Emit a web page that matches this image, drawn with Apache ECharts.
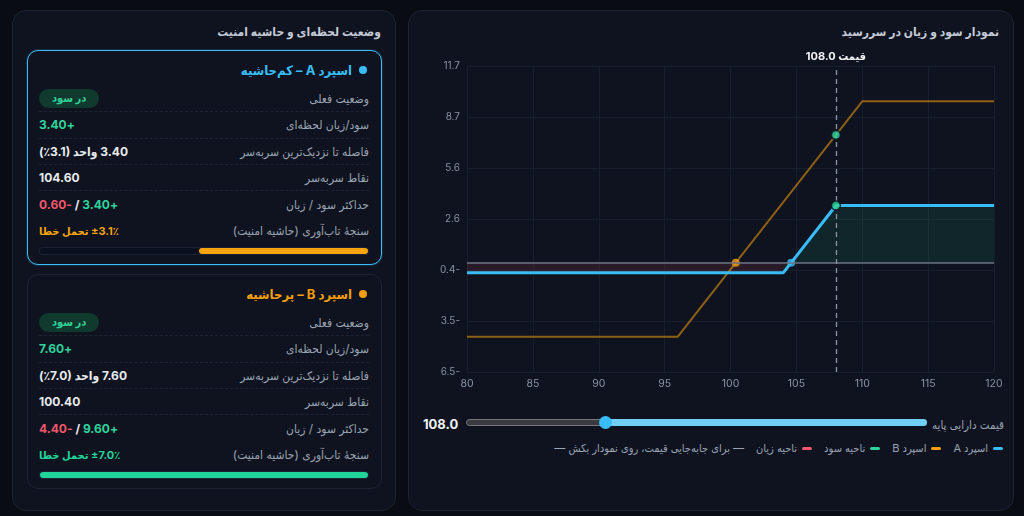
<!DOCTYPE html>
<html lang="fa" dir="rtl">
<head>
<meta charset="UTF-8">
<title>نمودار سود و زیان</title>
<script src="https://cdn.jsdelivr.net/npm/echarts@6/dist/echarts.min.js"></script>
<style>
  body { margin:0; width:1024px; height:516px; overflow:hidden; background:#090c13;
         font-family: Inter, "DejaVu Sans Condensed", "DejaVu Sans", sans-serif; font-stretch: semi-condensed; color:#e5e7eb; }
  .panel { position:absolute; top:10px; height:501px; background:#0e131f; border:1px solid #1c2333;
           border-radius:14px; box-sizing:border-box; }
  #left { left:12px; width:384px; }
  #right { left:408px; width:606px; }
  .ptitle { position:absolute; top:13px; right:14px; font-size:12px; font-weight:bold; color:#c3cad6; }
  .card { position:absolute; left:14px; width:355px; height:215px; box-sizing:border-box;
          border:1px solid #1c2333; border-radius:11px; background:#0e131f; }
  .card.active { border:1.5px solid #38bdf8; box-shadow:0 0 0 1px rgba(56,189,248,0.15); }
  .ctitle { position:absolute; top:11px; right:14px; font-size:13px; font-weight:bold; display:flex; align-items:center; gap:7px; }
  .ctitle .dot { width:8px; height:8px; border-radius:50%; }
  .rows { position:absolute; top:35px; left:11px; right:12px; }
  .row { height:26.3px; display:flex; justify-content:space-between; align-items:center; font-size:12px;
         box-sizing:border-box; }
  .row.sep { border-bottom:1px dashed #1d2434; }
  .row .lbl { color:#9aa3b2; }
  .row .val { font-weight:bold; color:#e8ebf0; }
  .row .pos, .pos { color:#2fd39b; }
  .row .neg, .neg { color:#f0576a; }
  .badge { background:#0f3a2d; color:#2fd39b; font-size:11px; font-weight:bold; padding:2px 13px 3px; border-radius:10px; }
  .gauge { position:absolute; left:11px; right:12px; top:196px; height:6px; border-radius:3px; background:#0b1020;
           border:1px solid #1a2132; }
  .gauge .fill { position:absolute; right:0; top:0; bottom:0; border-radius:3px; }
  #chart { position:absolute; left:0; top:30px; width:604px; height:360px; }
  .slabel { position:absolute; top:407px; right:9px; font-size:11.5px; color:#9aa3b2; }
  .sval { position:absolute; top:405px; left:14px; font-size:13px; font-weight:bold; color:#f1f3f6; }
  .track { position:absolute; top:408px; left:57px; width:461px; height:7px; border-radius:4px; background:#3a3b40;
           box-sizing:border-box; border:1px solid #77787d; }
  .track .fill { position:absolute; top:-1px; bottom:-1px; right:-1px; border-radius:4px; background:#6fcff5; }
  .thumb { position:absolute; top:405px; width:13px; height:13px; border-radius:50%; background:#38bdf8; margin-left:-5px; }
  .legend { position:absolute; top:430px; right:10px; display:flex; align-items:center; gap:12px; font-size:11px; color:#9aa3b2; }
  .legend .it { display:flex; align-items:center; gap:5px; }
  .legend .ic { width:10px; height:3px; border-radius:2px; }
</style>
</head>
<body>
<div class="panel" id="left">
  <div class="ptitle">وضعیت لحظه‌ای و حاشیه امنیت</div>
  <div id="cards"></div>
</div>
<div class="panel" id="right">
  <div class="ptitle">نمودار سود و زیان در سررسید</div>
  <div id="chart"></div>
  <div class="slabel">قیمت دارایی پایه</div>
  <div class="track"><div class="fill" id="sfill"></div></div>
  <div class="thumb" id="thumb"></div>
  <div class="sval" id="sval"></div>
  <div class="legend">
    <div class="it"><span class="ic" style="background:#38bdf8"></span>اسپرد A</div>
    <div class="it"><span class="ic" style="background:#f59e0b"></span>اسپرد B</div>
    <div class="it"><span class="ic" style="background:#2fd39b"></span>ناحیه سود</div>
    <div class="it"><span class="ic" style="background:#f0576a"></span>ناحیه زیان</div>
    <div class="it">— برای جابه‌جایی قیمت، روی نمودار بکش —</div>
  </div>
</div>

<script type="text/javascript">
    // داده‌ها
    var priceMin = 80, priceMax = 120, priceStep = 5;
    var pnlMin = -6.5, pnlMax = 11.7, pnlSplits = 6;
    var currentPrice = 108.0;

    var spreadA = [[80, -0.6], [104, -0.6], [108, 3.4], [120, 3.4]];
    var spreadB = [[80, -4.4], [96, -4.4], [110, 9.6], [120, 9.6]];
    var lossZoneA = [[80, -0.6], [104, -0.6], [104.6, 0]];
    var profitZoneA = [[104.6, 0], [108, 3.4], [120, 3.4]];
    var breakevenA = [[104.6, 0]];
    var breakevenB = [[100.4, 0]];
    var nowPoints = [[108, 3.4], [108, 7.6]];

    // کارت‌ها
    var cardNames = ['اسپرد A – کم‌حاشیه', 'اسپرد B – پرحاشیه'];
    var cardColors = ['#38bdf8', '#f59e0b'];
    var cardPnl = ['+3.40', '+7.60'];
    var cardDist = ['3.40', '7.60'];
    var cardPct = ['3.1', '7.0'];
    var cardBreakeven = ['104.60', '100.40'];
    var cardMaxProfit = ['+3.40', '+9.60'];
    var cardMaxLoss = ['-0.60', '-4.40'];
    var gaugeColors = ['#f5a30f', '#22d39a'];
    var gaugeFull = 6; // درصد

    var tops = [39, 263];
    var html = '';
    for (var i = 0; i < 2; i++) {
        var w = Math.min(1, parseFloat(cardPct[i]) / gaugeFull) * 100;
        html += '<div class="card' + (i === 0 ? ' active' : '') + '" style="top:' + tops[i] + 'px">' +
            '<div class="ctitle" style="color:' + cardColors[i] + '"><span class="dot" style="background:' + cardColors[i] + '"></span>' + cardNames[i] + '</div>' +
            '<div class="rows">' +
            '<div class="row sep"><span class="lbl">وضعیت فعلی</span><span class="badge">در سود</span></div>' +
            '<div class="row sep"><span class="lbl">سود/زیان لحظه‌ای</span><span class="val pos">' + cardPnl[i] + '</span></div>' +
            '<div class="row sep"><span class="lbl">فاصله تا نزدیک‌ترین سربه‌سر</span><span class="val">' + cardDist[i] + ' واحد <bdi dir="ltr">(٪' + cardPct[i] + ')</bdi></span></div>' +
            '<div class="row sep"><span class="lbl">نقاط سربه‌سر</span><span class="val">' + cardBreakeven[i] + '</span></div>' +
            '<div class="row"><span class="lbl">حداکثر سود / زیان</span><span class="val"><span class="pos">' + cardMaxProfit[i] + '</span> / <span class="neg">' + cardMaxLoss[i] + '</span></span></div>' +
            '<div class="row"><span class="lbl">سنجهٔ تاب‌آوری (حاشیه امنیت)</span><span class="val" style="font-size:11px;color:' + gaugeColors[i] + '"><bdi dir="ltr">±' + cardPct[i] + '٪</bdi> تحمل خطا</span></div>' +
            '</div>' +
            '<div class="gauge"><div class="fill" style="width:' + w + '%;background:' + gaugeColors[i] + '"></div></div>' +
            '</div>';
    }
    document.getElementById('cards').innerHTML = html;

    // اسلایدر (راست = کمینه)
    var frac = (priceMax - currentPrice) / (priceMax - priceMin);
    document.getElementById('sfill').style.left = (frac * 461) + 'px';
    document.getElementById('thumb').style.left = (57 + frac * 461) + 'px';
    document.getElementById('sval').textContent = currentPrice.toFixed(1);

    var myChart = echarts.init(document.getElementById('chart'));
    var font = 'Inter, "DejaVu Sans Condensed", "DejaVu Sans", sans-serif';
    var option = {
        animation: false,
        textStyle: { fontFamily: font },
        grid: { left: 58, right: 19, top: 25, bottom: 29 },
        xAxis: {
            type: 'value', min: priceMin, max: priceMax, interval: priceStep,
            axisLine: { lineStyle: { color: '#1e2535' } },
            axisTick: { show: false },
            axisLabel: { color: '#8a92a4', fontSize: 10.5, margin: 6 },
            splitLine: { lineStyle: { color: '#171e2c' } }
        },
        yAxis: {
            type: 'value', min: pnlMin, max: pnlMax, interval: (pnlMax - pnlMin) / pnlSplits,
            axisLine: { show: false },
            axisTick: { show: false },
            axisLabel: { color: '#8a92a4', fontSize: 10, margin: 7,
                formatter: function (v) { return v.toFixed(1); } },
            splitLine: { lineStyle: { color: '#171e2c' } }
        },
        series: [
            {
                name: 'loss', type: 'line', data: lossZoneA, symbol: 'none', silent: true,
                lineStyle: { width: 0 }, areaStyle: { color: 'rgba(240,87,106,0.17)', origin: 'auto' }, z: 1
            },
            {
                name: 'profit', type: 'line', data: profitZoneA, symbol: 'none', silent: true,
                lineStyle: { width: 0 }, areaStyle: { color: 'rgba(47,211,155,0.14)', origin: 'auto' }, z: 1
            },
            {
                name: 'اسپرد B', type: 'line', data: spreadB, symbol: 'none',
                lineStyle: { color: 'rgba(245,158,11,0.55)', width: 2 }, z: 2,
                markLine: {
                    symbol: ['none', 'none'], silent: true,
                    lineStyle: { color: '#6c7280', width: 1.5, type: 'solid' },
                    label: { show: false },
                    data: [{ yAxis: 0 }]
                }
            },
            {
                name: 'اسپرد A', type: 'line', data: spreadA, symbol: 'none',
                lineStyle: { color: '#38bdf8', width: 3 }, z: 3,
                markLine: {
                    symbol: ['none', 'none'], silent: true,
                    lineStyle: { color: '#8d94a3', width: 1.3, type: [5, 4] },
                    label: { show: true, position: 'end', formatter: 'قیمت ' + currentPrice.toFixed(1),
                        color: '#f3f4f6', fontWeight: 'bold', fontSize: 11, distance: 4 },
                    data: [{ xAxis: currentPrice }]
                }
            },
            {
                type: 'scatter', data: breakevenB, symbolSize: 8, z: 4,
                itemStyle: { color: '#f59e0b' }
            },
            {
                type: 'scatter', data: breakevenA, symbolSize: 8, z: 4,
                itemStyle: { color: '#38bdf8' }
            },
            {
                type: 'scatter', data: nowPoints, symbolSize: 9, z: 5,
                itemStyle: { color: '#2fd39b', borderColor: '#0b1220', borderWidth: 1.5 }
            }
        ]
    };
    myChart.setOption(option);
</script>
</body>
</html>
